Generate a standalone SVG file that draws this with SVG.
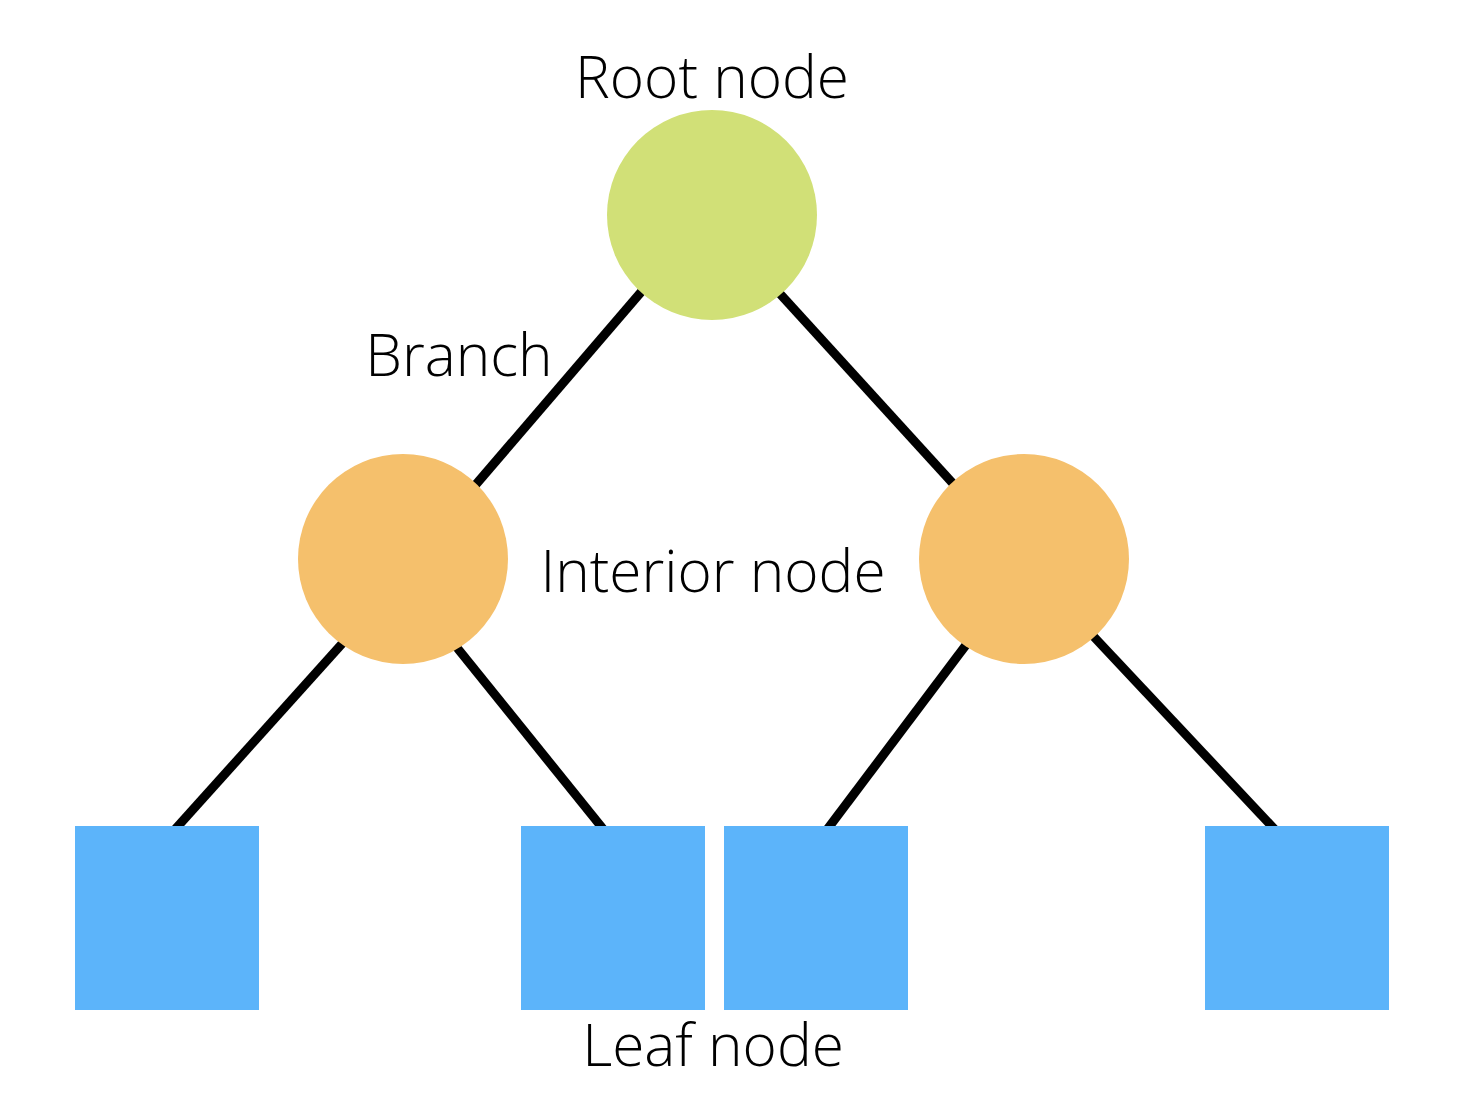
<svg xmlns="http://www.w3.org/2000/svg" width="1472" height="1112" viewBox="0 0 1472 1112">
  <style>
    .edge { stroke: #000; stroke-width: 9; fill: none; }
    .root { fill: #D1E077; }
    .inner { fill: #F5C06C; }
    .leaf { fill: #5CB4FA; }
    .label { font-family: "Open Sans", "Liberation Sans", sans-serif; font-weight: 300; font-size: 58.5px; fill: #000; }
  </style>
  <rect width="1472" height="1112" fill="#fff"/>
  <g id="edges">
    <line class="edge" x1="660" y1="270" x2="460" y2="503"/>
    <line class="edge" x1="762" y1="274" x2="968" y2="500"/>
    <line class="edge" x1="358" y1="626" x2="170" y2="835"/>
    <line class="edge" x1="446" y1="634" x2="608" y2="835"/>
    <line class="edge" x1="978" y1="629" x2="823" y2="835"/>
    <line class="edge" x1="1080" y1="622" x2="1280" y2="835"/>
  </g>
  <g id="root-node">
    <circle class="root" cx="712" cy="215" r="105"/>
  </g>
  <g id="interior-left">
    <circle class="inner" cx="403" cy="559" r="105"/>
  </g>
  <g id="interior-right">
    <circle class="inner" cx="1024" cy="559" r="105"/>
  </g>
  <g id="leaf-1"><rect class="leaf" x="75" y="826" width="184" height="184"/></g>
  <g id="leaf-2"><rect class="leaf" x="521" y="826" width="184" height="184"/></g>
  <g id="leaf-3"><rect class="leaf" x="724" y="826" width="184" height="184"/></g>
  <g id="leaf-4"><rect class="leaf" x="1205" y="826" width="184" height="184"/></g>
  <g id="labels">
    <text class="label" x="712" y="98" text-anchor="middle">Root node</text>
    <text class="label" x="459" y="376" text-anchor="middle">Branch</text>
    <text class="label" x="713" y="592" text-anchor="middle">Interior node</text>
    <text class="label" x="713" y="1066" text-anchor="middle">Leaf node</text>
  </g>
</svg>
